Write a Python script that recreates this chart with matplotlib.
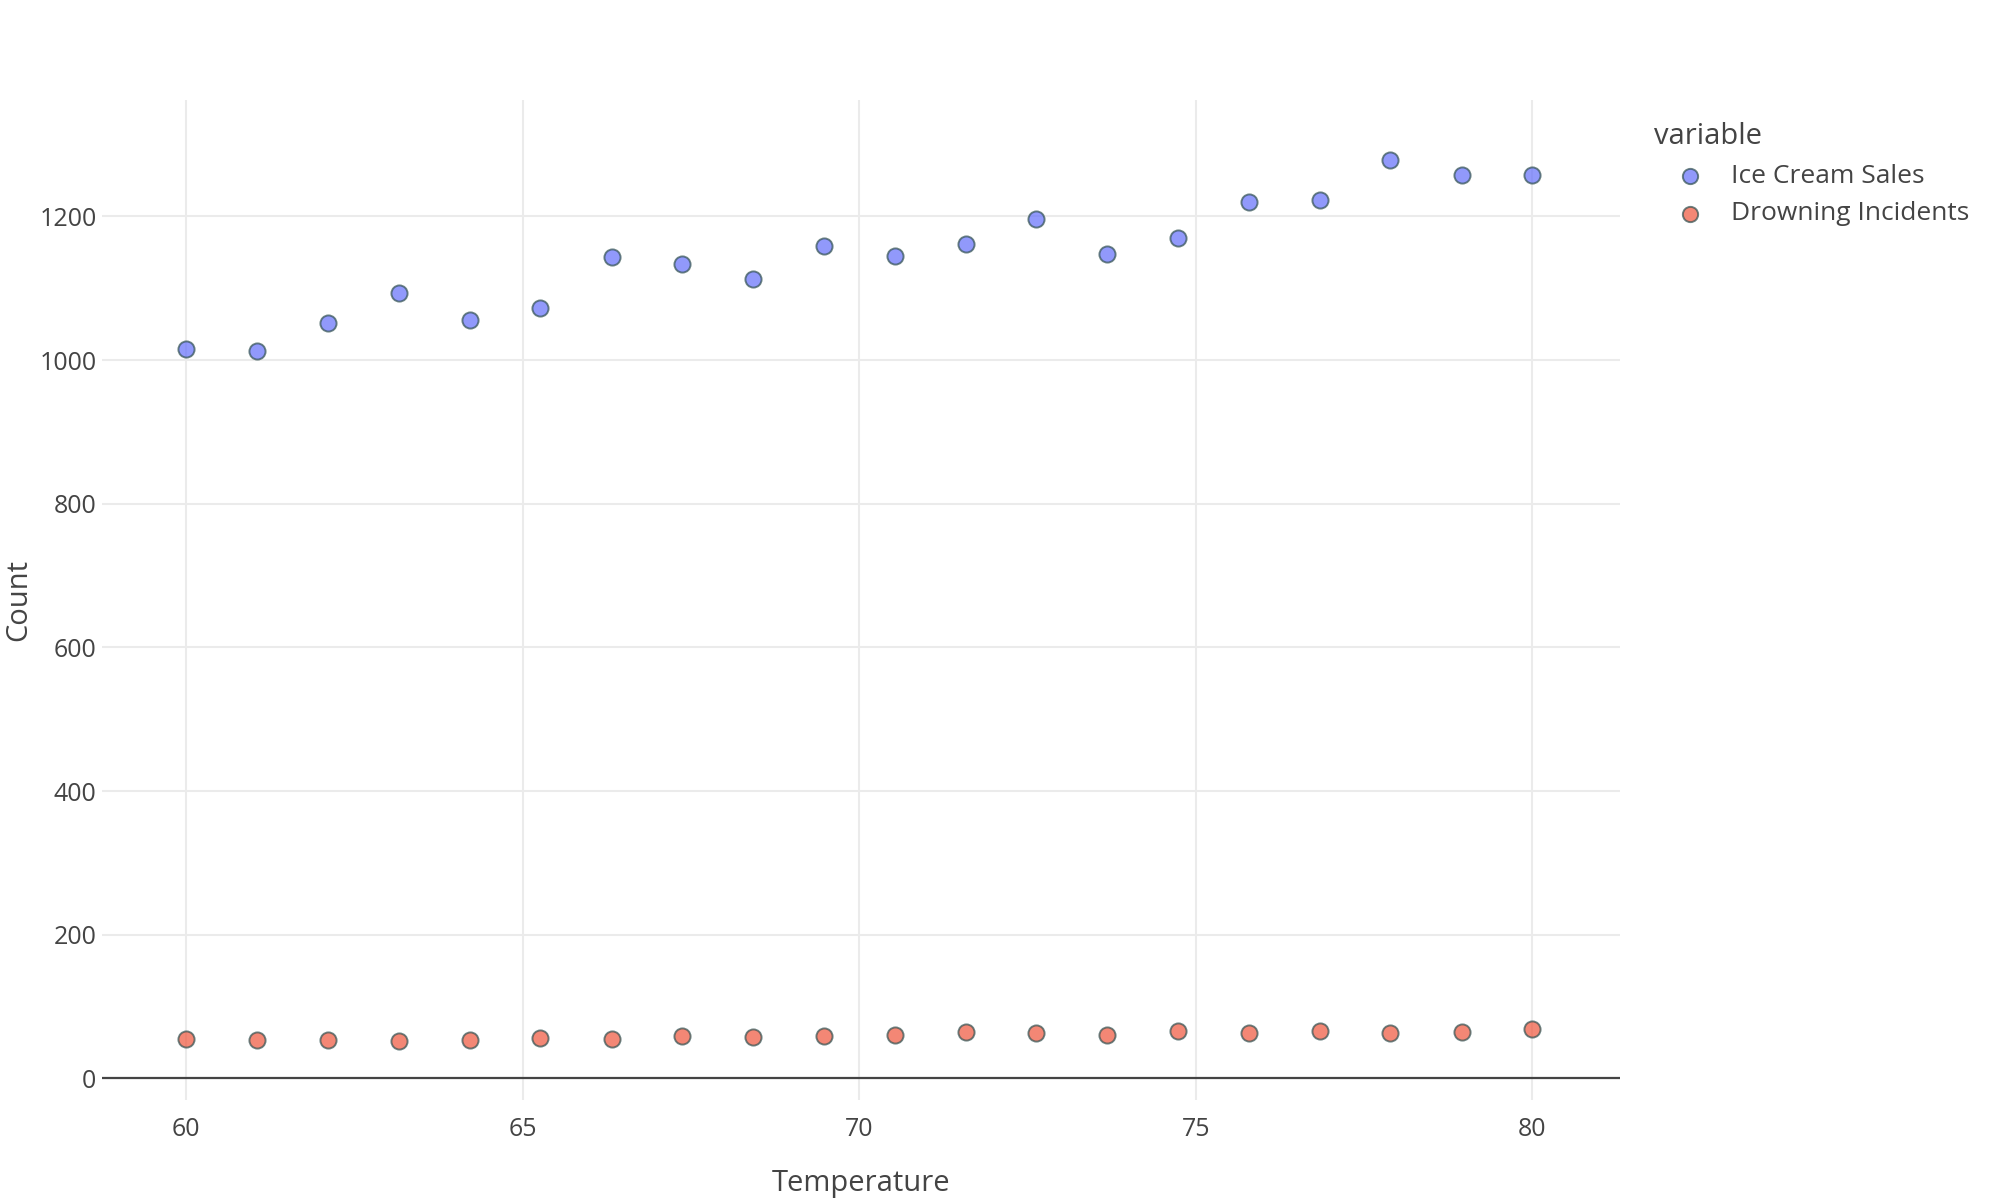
import matplotlib.pyplot as plt
from matplotlib.lines import Line2D

plt.rcParams['font.family'] = ['Open Sans', 'DejaVu Sans']

# Data
temperature = [60.0, 61.05, 62.11, 63.16, 64.21, 65.26, 66.32, 67.37, 68.42, 69.47,
               70.53, 71.58, 72.63, 73.68, 74.74, 75.79, 76.84, 77.89, 78.95, 80.0]
ice_cream = [1015, 1012, 1051, 1093, 1056, 1072, 1143, 1134, 1113, 1159,
             1145, 1161, 1197, 1148, 1170, 1220, 1223, 1278, 1257, 1258]
drowning = [55, 53, 54, 52, 54, 57, 55, 59, 58, 59,
            60, 65, 63, 61, 66, 63, 66, 63, 65, 69]

series = [('Ice Cream Sales', ice_cream, '#636efa'),
          ('Drowning Incidents', drowning, '#EF553B')]

text_col = '#444444'
grid_col = '#ebebeb'

fig = plt.figure(figsize=(20, 12), dpi=100)
ax = fig.add_axes([0.051, 0.0833, 0.759, 0.8334])

for name, vals, col in series:
    ax.scatter(temperature, vals, s=135, color=col, alpha=0.7,
               edgecolors='#2f4f4f', linewidths=1.4, zorder=3, label=name)

ax.set_xlim(58.75, 81.3)
ax.set_ylim(-30, 1362)
ax.set_xticks([60, 65, 70, 75, 80])
ax.set_yticks([0, 200, 400, 600, 800, 1000, 1200])
ax.grid(True, color=grid_col, linewidth=1.5, zorder=0)
ax.axhline(0, color=text_col, linewidth=1.6, zorder=2)
for s in ax.spines.values():
    s.set_visible(False)
ax.tick_params(length=0, labelsize=18, labelcolor=text_col)
ax.tick_params(axis='y', pad=4)
ax.tick_params(axis='x', pad=12)

# axis titles
fig.text(0.4305, 0.0135, 'Temperature', fontsize=21, color=text_col,
         ha='center', va='center')
fig.text(0.0095, 0.5, 'Count', fontsize=21, color=text_col,
         ha='center', va='center', rotation=90)

# legend, drawn by hand to match plotly placement
fig.text(0.827, 0.886, 'variable', fontsize=21, color=text_col,
         ha='left', va='center')
legend_y = [0.853, 0.8217]
for (name, _, col), y in zip(series, legend_y):
    fig.add_artist(Line2D([0.845], [y], transform=fig.transFigure,
                          linestyle='none', marker='o', markersize=11,
                          markerfacecolor=col, markeredgecolor='#2f4f4f',
                          markeredgewidth=1.4, alpha=0.7))
    fig.text(0.8655, y, name, fontsize=19, color=text_col,
             ha='left', va='center')

fig.savefig('out.png', dpi=100, facecolor='white')
